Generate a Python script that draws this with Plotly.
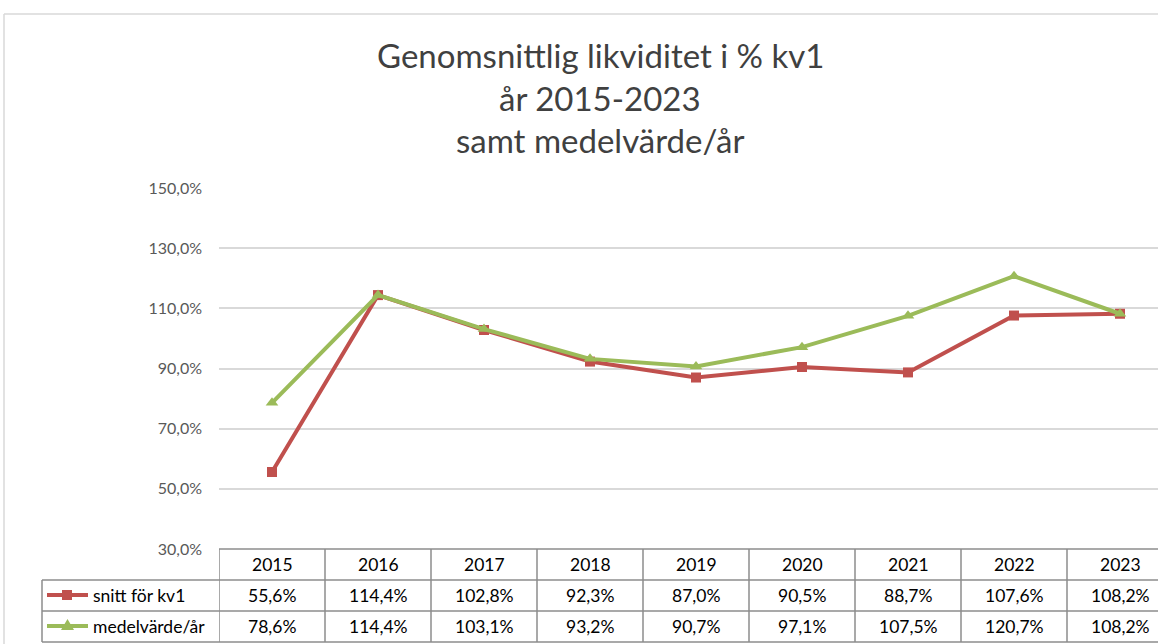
import plotly.graph_objects as go

years = ["2015", "2016", "2017", "2018", "2019", "2020", "2021", "2022", "2023"]
snitt_kv1 = [55.6, 114.4, 102.8, 92.3, 87.0, 90.5, 88.7, 107.6, 108.2]
medel_ar = [78.6, 114.4, 103.1, 93.2, 90.7, 97.1, 107.5, 120.7, 108.2]
series_names = ["snitt för kv1", "medelvärde/år"]
title_lines = ["Genomsnittlig likviditet i % kv1", "år 2015-2023", "samt medelvärde/år"]

RED = "#C0504D"
GREEN = "#9BBB59"
FONT = "Lato, 'Open Sans', sans-serif"
W, H = 1158, 644
L, T, B = 219, 188, 549  # plot area pixel bounds
PH = B - T
PW = W - L


def py(y):
    return (B - y) / PH


def pxp(x):
    return (x - L) / PW


def fmt(v):
    return f"{v:.1f}".replace(".", ",") + "%"


xs = list(range(len(years)))
fig = go.Figure()
fig.add_trace(go.Scatter(x=xs, y=snitt_kv1, mode="lines+markers", name=series_names[0],
                         line=dict(color=RED, width=4),
                         marker=dict(symbol="square", size=10, color=RED)))
fig.add_trace(go.Scatter(x=xs, y=medel_ar, mode="lines+markers", name=series_names[1],
                         line=dict(color=GREEN, width=4),
                         marker=dict(symbol="triangle-up", size=11, color=GREEN)))

shapes = []
annos = []
GRID = "#8c8c8c"
TXT = 17.5
# outer chart border
shapes.append(dict(type="line", xref="paper", yref="paper", x0=pxp(4), x1=pxp(1160), y0=py(14), y1=py(14),
                   line=dict(color="#d9d9d9", width=1.5)))
shapes.append(dict(type="line", xref="paper", yref="paper", x0=pxp(4), x1=pxp(4), y0=py(14), y1=py(650),
                   line=dict(color="#d9d9d9", width=1.5)))

# table horizontal lines
shapes.append(dict(type="line", xref="paper", yref="paper", x0=0, x1=pxp(1160), y0=py(549), y1=py(549),
                   line=dict(color=GRID, width=1.5)))
for yy in [580, 611, 642]:
    shapes.append(dict(type="line", xref="paper", yref="paper", x0=pxp(42), x1=pxp(1160), y0=py(yy), y1=py(yy),
                       line=dict(color=GRID, width=1.5)))
shapes.append(dict(type="line", xref="paper", yref="paper", x0=pxp(42), x1=pxp(42), y0=py(580), y1=py(642),
                   line=dict(color=GRID, width=1.5)))
for i in range(len(years) + 1):
    shapes.append(dict(type="line", xref="x", yref="paper", x0=i - 0.5, x1=i - 0.5, y0=py(549), y1=py(642),
                       line=dict(color=GRID, width=1.5)))

# table text
for i, yr in enumerate(years):
    for txt, yc in [(yr, 564), (fmt(snitt_kv1[i]), 595), (fmt(medel_ar[i]), 626)]:
        annos.append(dict(x=i, y=py(yc), xref="x", yref="paper", text=txt, showarrow=False,
                          xanchor="center", yanchor="middle",
                          font=dict(family=FONT, size=TXT, color="#000000")))

# legend keys in table
for name, color, yc, sym in [(series_names[0], RED, 595, "sq"), (series_names[1], GREEN, 626, "tri")]:
    shapes.append(dict(type="line", xref="paper", yref="paper", x0=pxp(47), x1=pxp(88), y0=py(yc), y1=py(yc),
                       line=dict(color=color, width=4)))
    if sym == "sq":
        shapes.append(dict(type="rect", xref="paper", yref="paper", x0=pxp(62), x1=pxp(72), y0=py(yc - 5),
                           y1=py(yc + 5), fillcolor=color, line=dict(width=0)))
    else:
        shapes.append(dict(type="path", xref="paper", yref="paper",
                           path=f"M {pxp(61)},{py(yc + 4)} L {pxp(74)},{py(yc + 4)} L {pxp(67.5)},{py(yc - 7)} Z",
                           fillcolor=color, line=dict(width=0)))
    annos.append(dict(x=pxp(91), y=py(yc), xref="paper", yref="paper", text=name, showarrow=False,
                      xanchor="left", yanchor="middle", font=dict(family=FONT, size=TXT, color="#000000")))

# title
for k, (line, yy) in enumerate(zip(title_lines, [55, 98, 140])):
    annos.append(dict(x=pxp(600), y=py(yy), xref="paper", yref="paper", text=line, showarrow=False,
                      xanchor="center", yanchor="middle",
                      font=dict(family=FONT, size=33, color="#404040")))

fig.update_layout(
    width=W, height=H,
    margin=dict(l=L, r=0, t=T, b=H - B, pad=0),
    paper_bgcolor="white", plot_bgcolor="white",
    showlegend=False,
    separators=", ",
    shapes=shapes, annotations=annos,
    xaxis=dict(range=[-0.5, (W - 272) / 106], showticklabels=False, showgrid=False, zeroline=False,
               showline=False, ticks=""),
    yaxis=dict(range=[30, 150], dtick=20, tick0=30, tickformat=".1f", ticksuffix="%",
               showgrid=True, gridcolor="#d9d9d9", gridwidth=1.5, zeroline=False, showline=False,
               ticks="", ticklabelstandoff=16,
               tickfont=dict(family=FONT, size=16, color="#595959")),
)

fig.write_html("out.html", config={"displayModeBar": False},
               post_script="document.body.style.margin='0';document.body.style.overflow='hidden';")
